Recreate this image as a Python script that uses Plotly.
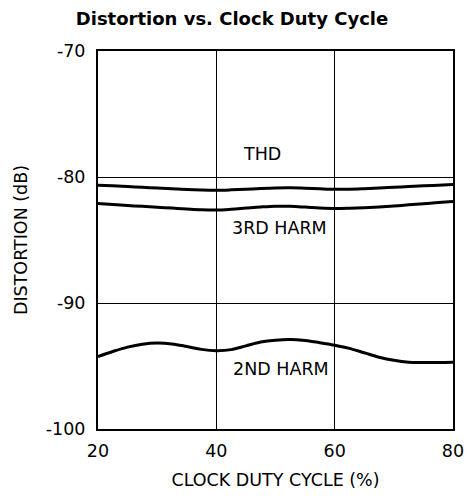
import plotly.graph_objects as go

duty = [20, 22.5, 25, 27.5, 30, 32.5, 35, 37.5, 40, 42.5, 45, 47.5, 50,
        52.5, 55, 57.5, 60, 62.5, 65, 67.5, 70, 72.5, 75, 77.5, 80]
thd = [-80.65, -80.70, -80.76, -80.82, -80.88, -80.94, -80.99, -81.03, -81.05, -81.02,
       -80.97, -80.91, -80.87, -80.86, -80.89, -80.94, -80.98, -80.97, -80.93, -80.88,
       -80.82, -80.76, -80.70, -80.65, -80.60]
harm3 = [-82.10, -82.18, -82.26, -82.33, -82.40, -82.47, -82.54, -82.60, -82.62, -82.56,
         -82.47, -82.38, -82.32, -82.33, -82.39, -82.46, -82.50, -82.48, -82.44, -82.38,
         -82.30, -82.21, -82.12, -82.03, -81.95]
harm2 = [-94.25, -93.85, -93.50, -93.27, -93.18, -93.25, -93.45, -93.68, -93.78, -93.70,
         -93.40, -93.10, -92.95, -92.90, -92.98, -93.15, -93.35, -93.60, -93.95, -94.30,
         -94.55, -94.70, -94.72, -94.72, -94.70]

labels = ["THD", "3RD HARM", "2ND HARM"]
label_x = [47.8, 50.7, 50.9]
label_y = [-78.2, -84.05, -95.2]

x_ticks = [20, 40, 60, 80]
x_ticktext = ["20", "40", "60", "80"]
y_ticks = [-100, -90, -80, -70]
y_ticktext = ["-100", "-90", "-80", "-70"]

FONT = "DejaVu Sans, sans-serif"
FS = 17.5

fig = go.Figure()
for ys in (thd, harm3, harm2):
    fig.add_trace(go.Scatter(x=duty, y=ys, mode="lines",
                             line=dict(color="black", width=3, shape="spline"),
                             showlegend=False, hoverinfo="skip"))

for t, x, y in zip(labels, label_x, label_y):
    fig.add_annotation(x=x, y=y, text=t, showarrow=False,
                       font=dict(family=FONT, size=FS, color="black"))

fig.update_layout(
    width=475, height=500, autosize=False,
    margin=dict(l=97.5, r=21.5, t=50.5, b=70.5),
    paper_bgcolor="white", plot_bgcolor="white",
    title=dict(text="<b>Distortion vs. Clock Duty Cycle</b>", x=232 / 475, xanchor="center",
               y=1 - 19 / 500, yanchor="middle",
               font=dict(family=FONT, size=18, color="black")),
    font=dict(family=FONT, size=FS, color="black"),
)
fig.update_xaxes(range=[20, 80], tickvals=x_ticks, ticktext=x_ticktext, showgrid=True,
                 gridcolor="black", gridwidth=1, showline=True, linecolor="black",
                 linewidth=2, mirror=True, zeroline=False, ticks="", ticklabelstandoff=5,
                 title=dict(text="CLOCK DUTY CYCLE (%)", standoff=14,
                            font=dict(family=FONT, size=FS)))
fig.update_yaxes(range=[-100, -70], tickvals=y_ticks, ticktext=y_ticktext, showgrid=True,
                 gridcolor="black", gridwidth=1, showline=True, linecolor="black",
                 linewidth=2, mirror=True, zeroline=False, ticks="", ticklabelstandoff=7,
                 title=dict(text="DISTORTION (dB)", standoff=14,
                            font=dict(family=FONT, size=FS)))

fig.write_html("out.html", config={"displayModeBar": False},
               post_script="document.body.style.margin='0';")
